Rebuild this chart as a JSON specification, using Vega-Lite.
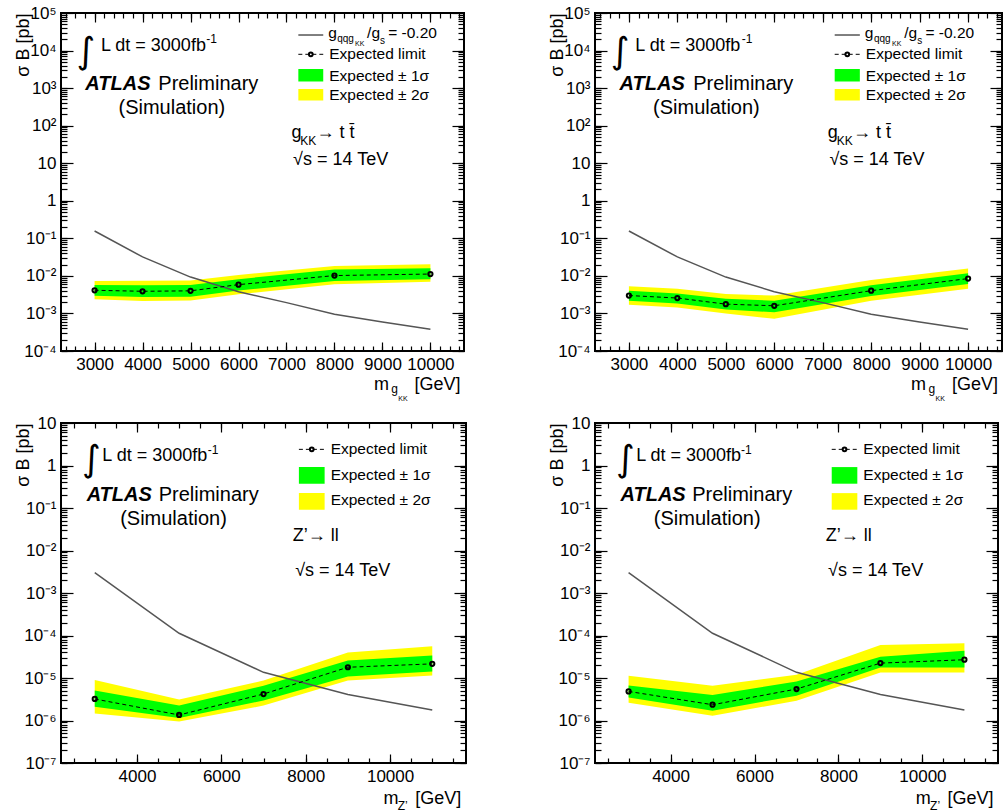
{
"$schema": "https://vega.github.io/schema/vega-lite/v6.json",
"background": "white",
"padding": {"left": 13, "top": 3, "right": 0, "bottom": 0},
"config": {
 "view": {"stroke": "black", "strokeWidth": 2},
 "font": "Liberation Sans",
 "axis": {"grid": false, "domain": false, "labelFont": "Liberation Sans", "labelFontSize": 17, "labelColor": "black", "tickColor": "black", "tickWidth": 1.2, "titleFont": "Liberation Sans", "titleFontSize": 18, "titleFontWeight": "normal", "titleColor": "black", "labelFlush": false, "labelOverlap": false},
 "text": {"font": "Liberation Sans", "color": "black"}
},
"datasets": {
 "tl": [
  {"m":3000,"lo2":0.00238,"lo1":0.00298,"exp":0.00414,"hi1":0.00573,"hi2":0.00733},
  {"m":4000,"lo2":0.00215,"lo1":0.00275,"exp":0.00389,"hi1":0.0056,"hi2":0.0074},
  {"m":5000,"lo2":0.0022,"lo1":0.0028,"exp":0.0040,"hi1":0.0057,"hi2":0.0075},
  {"m":6000,"lo2":0.00324,"lo1":0.0041,"exp":0.00585,"hi1":0.0082,"hi2":0.0106},
  {"m":8000,"lo2":0.00597,"lo1":0.00733,"exp":0.0102,"hi1":0.0147,"hi2":0.0184},
  {"m":10000,"lo2":0.0070,"lo1":0.0081,"exp":0.0112,"hi1":0.0159,"hi2":0.0204}
 ],
 "tr": [
  {"m":3000,"lo2":0.0017,"lo1":0.00219,"exp":0.0030,"hi1":0.00404,"hi2":0.00526},
  {"m":4000,"lo2":0.00144,"lo1":0.00185,"exp":0.00257,"hi1":0.00342,"hi2":0.00457},
  {"m":5000,"lo2":0.0010,"lo1":0.00127,"exp":0.00177,"hi1":0.00246,"hi2":0.00328},
  {"m":6000,"lo2":0.00072,"lo1":0.00108,"exp":0.0016,"hi1":0.00219,"hi2":0.0030},
  {"m":8000,"lo2":0.00219,"lo1":0.0029,"exp":0.00404,"hi1":0.0056,"hi2":0.0078},
  {"m":10000,"lo2":0.00457,"lo1":0.00608,"exp":0.00848,"hi1":0.0117,"hi2":0.0157}
 ],
 "bl": [
  {"m":3000,"lo2":1.47e-6,"lo1":2.12e-6,"exp":3.21e-6,"hi1":5.05e-6,"hi2":9.0e-6},
  {"m":5000,"lo2":9.5e-7,"lo1":1.15e-6,"exp":1.35e-6,"hi1":2.24e-6,"hi2":3.1e-6},
  {"m":7000,"lo2":2.24e-6,"lo1":2.95e-6,"exp":4.2e-6,"hi1":6.6e-6,"hi2":8.7e-6},
  {"m":9000,"lo2":8.7e-6,"lo1":1.08e-5,"exp":1.79e-5,"hi1":2.57e-5,"hi2":4.0e-5},
  {"m":11000,"lo2":1.14e-5,"lo1":1.42e-5,"exp":2.15e-5,"hi1":3.37e-5,"hi2":5.6e-5}
 ],
 "br": [
  {"m":3000,"lo2":2.62e-6,"lo1":3.5e-6,"exp":4.83e-6,"hi1":6.7e-6,"hi2":1.13e-5},
  {"m":5000,"lo2":1.29e-6,"lo1":1.7e-6,"exp":2.35e-6,"hi1":3.97e-6,"hi2":6.6e-6},
  {"m":7000,"lo2":2.92e-6,"lo1":3.83e-6,"exp":5.5e-6,"hi1":8.3e-6,"hi2":1.19e-5},
  {"m":9000,"lo2":1.35e-5,"lo1":1.77e-5,"exp":2.24e-5,"hi1":3.16e-5,"hi2":6.0e-5},
  {"m":11000,"lo2":1.35e-5,"lo1":1.77e-5,"exp":2.69e-5,"hi1":4.36e-5,"hi2":6.6e-5}
 ],
 "thTop": [
  {"m":3000,"v":0.157},{"m":4000,"v":0.032},{"m":5000,"v":0.0093},{"m":6000,"v":0.0038},
  {"m":7000,"v":0.00194},{"m":8000,"v":0.00095},{"m":9000,"v":0.00059},{"m":10000,"v":0.00038}
 ],
 "thBot": [
  {"m":3000,"v":0.003},{"m":5000,"v":0.000113},{"m":7000,"v":1.36e-5},{"m":9000,"v":4.07e-6},{"m":11000,"v":1.77e-6}
 ],
 "topA": [{"x":2807,"y":1265,"t":"ATLAS"}],
 "topB": [{"x":4328,"y":1265,"t":"Preliminary"},{"x":3498,"y":290.4,"t":"(Simulation)"}],
 "topC": [{"x":3133,"y":13200,"t":"L dt = 3000fb"},{"x":7102,"y":65,"t":"g"},{"x":7627,"y":65,"t":"→ t t̄"},{"x":7138,"y":11.97,"t":"√s = 14 TeV"},{"x":8824,"y":1.247e-5,"t":"m"},{"x":9668,"y":1.247e-5,"t":"[GeV]"}],
 "topD": [{"x":5330,"y":20000,"t":"-1"},{"x":7288,"y":39.1,"t":"KK"},{"x":9183,"y":9.57e-6,"t":"g"}],
 "topE": [{"x":7869,"y":29920,"t":"g"},{"x":8680,"y":29920,"t":"/g"},{"x":9120,"y":29920,"t":"= -0.20"},{"x":7890,"y":7943,"t":"Expected limit"},{"x":7890,"y":2104,"t":"Expected ± 1σ"},{"x":7890,"y":656,"t":"Expected ± 2σ"}],
 "topF": [{"x":8056,"y":20700,"t":"qqg"},{"x":8950,"y":17990,"t":"s"}],
 "topG": [{"x":8430,"y":15240,"t":"KK"},{"x":9330,"y":5.4e-6,"t":"KK"}],
 "topH": [{"x":2817,"y":9162,"t":"∫"}],
 "topLegSolid": [{"x":7247,"x2":7766,"y":25940}],
 "topLegDash": [{"x":7247,"x2":7766,"y":7943}],
 "topLegDot": [{"x":7507,"y":7943}],
 "topLegGreen": [{"x":7247,"x2":7766,"y":3228,"y2":1500}],
 "topLegYellow": [{"x":7247,"x2":7766,"y":948,"y2":468}],
 "botA": [{"x":2808,"y":0.198,"t":"ATLAS"}],
 "botB": [{"x":4515,"y":0.198,"t":"Preliminary"},{"x":3602,"y":0.056,"t":"(Simulation)"}],
 "botC": [{"x":3180,"y":1.644,"t":"L dt = 3000fb"},{"x":7696,"y":0.0214,"t":"Z’→ ll"},{"x":7751,"y":0.00321,"t":"√s = 14 TeV"},{"x":9842,"y":1.42e-8,"t":"m"},{"x":10595,"y":1.42e-8,"t":"[GeV]"}],
 "botD": [{"x":5680,"y":2.275,"t":"-1"},{"x":10183,"y":9.86e-9,"t":"Z’"}],
 "botE": [{"x":8592,"y":2.399,"t":"Expected limit"},{"x":8592,"y":0.586,"t":"Expected ± 1σ"},{"x":8592,"y":0.151,"t":"Expected ± 2σ"}],
 "botH": [{"x":2922,"y":1.358,"t":"∫"}],
 "botLegDash": [{"x":7839,"x2":8449,"y":2.399}],
 "botLegDot": [{"x":8144,"y":2.399}],
 "botLegGreen": [{"x":7839,"x2":8449,"y":0.918,"y2":0.373}],
 "botLegYellow": [{"x":7839,"x2":8449,"y":0.224,"y2":0.0912}]
},
"columns": 2,
"spacing": {"row": 72, "column": 129},
"bounds": "flush",
"concat": [
  {"width": 403, "height": 338,
   "layer": [
    {"data": {"name": "tl"}, "mark": {"type": "area", "color": "#ffff00", "opacity": 1},
     "encoding": {
      "x": {"field": "m", "type": "quantitative", "scale": {"domain": [2300, 10700], "nice": false, "zero": false},
        "axis": {"orient": "bottom", "title": null, "values": [3000,4000,5000,6000,7000,8000,9000,10000], "format": "d", "tickSize": 9, "offset": -9, "labelPadding": 5}},
      "y": {"field": "lo2", "type": "quantitative", "scale": {"type": "log", "domain": [0.0001, 100000], "nice": false},
        "axis": {"orient": "left", "title": "σ B [pb]", "values": [0.0001,0.001,0.01,0.1,1,10,100,1000,10000,100000], "labelExpr": "datum.value == 1 ? '1' : datum.value == 10 ? '10' : '10' + ['⁻⁷','⁻⁶','⁻⁵','⁻⁴','⁻³','⁻²','⁻¹','','','²','³','⁴','⁵'][round(log(datum.value)/LN10) + 7]", "tickSize": 12, "offset": -12, "labelPadding": 5, "titleAnchor": "end", "titlePadding": -9}},
      "y2": {"field": "hi2"}}},
    {"data": {"name": "tl"}, "mark": {"type": "area", "color": "#00ff00", "opacity": 1},
     "encoding": {
      "x": {"field": "m", "type": "quantitative", "axis": {"orient": "bottom", "title": null, "labels": false, "tickSize": 5, "offset": -5, "values": [2400,2600,2800,3000,3200,3400,3600,3800,4000,4200,4400,4600,4800,5000,5200,5400,5600,5800,6000,6200,6400,6600,6800,7000,7200,7400,7600,7800,8000,8200,8400,8600,8800,9000,9200,9400,9600,9800,10000,10200,10400,10600]}},
      "y": {"field": "lo1", "type": "quantitative", "axis": {"orient": "left", "title": null, "labels": false, "tickSize": 6, "offset": -6, "tickCount": 60}},
      "y2": {"field": "hi1"}}},
    {"data": {"name": "thTop"}, "mark": {"type": "line", "color": "#555555", "strokeWidth": 1.5},
     "encoding": {
      "x": {"field": "m", "type": "quantitative", "axis": {"orient": "top", "title": null, "labels": false, "tickSize": 9, "offset": -9, "values": [3000,4000,5000,6000,7000,8000,9000,10000]}},
      "y": {"field": "v", "type": "quantitative", "axis": {"orient": "right", "title": null, "labels": false, "tickSize": 12, "offset": -12, "values": [0.0001,0.001,0.01,0.1,1,10,100,1000,10000,100000]}}}},
    {"data": {"name": "tl"}, "mark": {"type": "line", "color": "black", "strokeWidth": 1, "strokeDash": [4, 3]},
     "encoding": {
      "x": {"field": "m", "type": "quantitative", "axis": {"orient": "top", "title": null, "labels": false, "tickSize": 5, "offset": -5, "values": [2400,2600,2800,3000,3200,3400,3600,3800,4000,4200,4400,4600,4800,5000,5200,5400,5600,5800,6000,6200,6400,6600,6800,7000,7200,7400,7600,7800,8000,8200,8400,8600,8800,9000,9200,9400,9600,9800,10000,10200,10400,10600]}},
      "y": {"field": "exp", "type": "quantitative", "axis": {"orient": "right", "title": null, "labels": false, "tickSize": 6, "offset": -6, "tickCount": 60}}}},
    {"data": {"name": "tl"}, "mark": {"type": "point", "shape": "circle", "filled": false, "color": "black", "strokeWidth": 2, "size": 18, "opacity": 1},
     "encoding": {"x": {"field": "m", "type": "quantitative", "axis": null}, "y": {"field": "exp", "type": "quantitative", "axis": null}}},
    {"data": {"name": "topLegSolid"}, "mark": {"type": "rule", "color": "#555555", "strokeWidth": 1.5},
     "encoding": {"x": {"field": "x", "type": "quantitative", "axis": null}, "x2": {"field": "x2"}, "y": {"field": "y", "type": "quantitative", "axis": null}}},
    {"data": {"name": "topLegDash"}, "mark": {"type": "rule", "color": "black", "strokeWidth": 1, "strokeDash": [4, 3]},
     "encoding": {"x": {"field": "x", "type": "quantitative", "axis": null}, "x2": {"field": "x2"}, "y": {"field": "y", "type": "quantitative", "axis": null}}},
    {"data": {"name": "topLegDot"}, "mark": {"type": "point", "shape": "circle", "filled": false, "color": "black", "strokeWidth": 2, "size": 14, "opacity": 1},
     "encoding": {"x": {"field": "x", "type": "quantitative", "axis": null}, "y": {"field": "y", "type": "quantitative", "axis": null}}},
    {"data": {"name": "topLegGreen"}, "mark": {"type": "rect", "color": "#00ff00"},
     "encoding": {"x": {"field": "x", "type": "quantitative", "axis": null}, "x2": {"field": "x2"}, "y": {"field": "y", "type": "quantitative", "axis": null}, "y2": {"field": "y2"}}},
    {"data": {"name": "topLegYellow"}, "mark": {"type": "rect", "color": "#ffff00"},
     "encoding": {"x": {"field": "x", "type": "quantitative", "axis": null}, "x2": {"field": "x2"}, "y": {"field": "y", "type": "quantitative", "axis": null}, "y2": {"field": "y2"}}},
    {"data": {"name": "topA"}, "mark": {"type": "text", "align": "left", "baseline": "middle", "fontSize": 20, "fontWeight": "bold", "fontStyle": "italic"},
     "encoding": {"x": {"field": "x", "type": "quantitative", "axis": null}, "y": {"field": "y", "type": "quantitative", "axis": null}, "text": {"field": "t"}}},
    {"data": {"name": "topB"}, "mark": {"type": "text", "align": "left", "baseline": "middle", "fontSize": 20},
     "encoding": {"x": {"field": "x", "type": "quantitative", "axis": null}, "y": {"field": "y", "type": "quantitative", "axis": null}, "text": {"field": "t"}}},
    {"data": {"name": "topC"}, "mark": {"type": "text", "align": "left", "baseline": "middle", "fontSize": 18},
     "encoding": {"x": {"field": "x", "type": "quantitative", "axis": null}, "y": {"field": "y", "type": "quantitative", "axis": null}, "text": {"field": "t"}}},
    {"data": {"name": "topD"}, "mark": {"type": "text", "align": "left", "baseline": "middle", "fontSize": 12},
     "encoding": {"x": {"field": "x", "type": "quantitative", "axis": null}, "y": {"field": "y", "type": "quantitative", "axis": null}, "text": {"field": "t"}}},
    {"data": {"name": "topE"}, "mark": {"type": "text", "align": "left", "baseline": "middle", "fontSize": 15.5},
     "encoding": {"x": {"field": "x", "type": "quantitative", "axis": null}, "y": {"field": "y", "type": "quantitative", "axis": null}, "text": {"field": "t"}}},
    {"data": {"name": "topF"}, "mark": {"type": "text", "align": "left", "baseline": "middle", "fontSize": 10},
     "encoding": {"x": {"field": "x", "type": "quantitative", "axis": null}, "y": {"field": "y", "type": "quantitative", "axis": null}, "text": {"field": "t"}}},
    {"data": {"name": "topG"}, "mark": {"type": "text", "align": "left", "baseline": "middle", "fontSize": 7},
     "encoding": {"x": {"field": "x", "type": "quantitative", "axis": null}, "y": {"field": "y", "type": "quantitative", "axis": null}, "text": {"field": "t"}}},
    {"data": {"name": "topH"}, "mark": {"type": "text", "align": "center", "baseline": "middle", "fontSize": 36, "font": "DejaVu Sans"},
     "encoding": {"x": {"field": "x", "type": "quantitative", "axis": null}, "y": {"field": "y", "type": "quantitative", "axis": null}, "text": {"field": "t"}}}
   ],
   "resolve": {"axis": {"x": "independent", "y": "independent"}}
  },
  {"width": 407, "height": 338,
   "layer": [
    {"data": {"name": "tr"}, "mark": {"type": "area", "color": "#ffff00", "opacity": 1},
     "encoding": {
      "x": {"field": "m", "type": "quantitative", "scale": {"domain": [2300, 10700], "nice": false, "zero": false},
        "axis": {"orient": "bottom", "title": null, "values": [3000,4000,5000,6000,7000,8000,9000,10000], "format": "d", "tickSize": 9, "offset": -9, "labelPadding": 5}},
      "y": {"field": "lo2", "type": "quantitative", "scale": {"type": "log", "domain": [0.0001, 100000], "nice": false},
        "axis": {"orient": "left", "title": "σ B [pb]", "values": [0.0001,0.001,0.01,0.1,1,10,100,1000,10000,100000], "labelExpr": "datum.value == 1 ? '1' : datum.value == 10 ? '10' : '10' + ['⁻⁷','⁻⁶','⁻⁵','⁻⁴','⁻³','⁻²','⁻¹','','','²','³','⁴','⁵'][round(log(datum.value)/LN10) + 7]", "tickSize": 12, "offset": -12, "labelPadding": 5, "titleAnchor": "end", "titlePadding": -9}},
      "y2": {"field": "hi2"}}},
    {"data": {"name": "tr"}, "mark": {"type": "area", "color": "#00ff00", "opacity": 1},
     "encoding": {
      "x": {"field": "m", "type": "quantitative", "axis": {"orient": "bottom", "title": null, "labels": false, "tickSize": 5, "offset": -5, "values": [2400,2600,2800,3000,3200,3400,3600,3800,4000,4200,4400,4600,4800,5000,5200,5400,5600,5800,6000,6200,6400,6600,6800,7000,7200,7400,7600,7800,8000,8200,8400,8600,8800,9000,9200,9400,9600,9800,10000,10200,10400,10600]}},
      "y": {"field": "lo1", "type": "quantitative", "axis": {"orient": "left", "title": null, "labels": false, "tickSize": 6, "offset": -6, "tickCount": 60}},
      "y2": {"field": "hi1"}}},
    {"data": {"name": "thTop"}, "mark": {"type": "line", "color": "#555555", "strokeWidth": 1.5},
     "encoding": {
      "x": {"field": "m", "type": "quantitative", "axis": {"orient": "top", "title": null, "labels": false, "tickSize": 9, "offset": -9, "values": [3000,4000,5000,6000,7000,8000,9000,10000]}},
      "y": {"field": "v", "type": "quantitative", "axis": {"orient": "right", "title": null, "labels": false, "tickSize": 12, "offset": -12, "values": [0.0001,0.001,0.01,0.1,1,10,100,1000,10000,100000]}}}},
    {"data": {"name": "tr"}, "mark": {"type": "line", "color": "black", "strokeWidth": 1, "strokeDash": [4, 3]},
     "encoding": {
      "x": {"field": "m", "type": "quantitative", "axis": {"orient": "top", "title": null, "labels": false, "tickSize": 5, "offset": -5, "values": [2400,2600,2800,3000,3200,3400,3600,3800,4000,4200,4400,4600,4800,5000,5200,5400,5600,5800,6000,6200,6400,6600,6800,7000,7200,7400,7600,7800,8000,8200,8400,8600,8800,9000,9200,9400,9600,9800,10000,10200,10400,10600]}},
      "y": {"field": "exp", "type": "quantitative", "axis": {"orient": "right", "title": null, "labels": false, "tickSize": 6, "offset": -6, "tickCount": 60}}}},
    {"data": {"name": "tr"}, "mark": {"type": "point", "shape": "circle", "filled": false, "color": "black", "strokeWidth": 2, "size": 18, "opacity": 1},
     "encoding": {"x": {"field": "m", "type": "quantitative", "axis": null}, "y": {"field": "exp", "type": "quantitative", "axis": null}}},
    {"data": {"name": "topLegSolid"}, "mark": {"type": "rule", "color": "#555555", "strokeWidth": 1.5},
     "encoding": {"x": {"field": "x", "type": "quantitative", "axis": null}, "x2": {"field": "x2"}, "y": {"field": "y", "type": "quantitative", "axis": null}}},
    {"data": {"name": "topLegDash"}, "mark": {"type": "rule", "color": "black", "strokeWidth": 1, "strokeDash": [4, 3]},
     "encoding": {"x": {"field": "x", "type": "quantitative", "axis": null}, "x2": {"field": "x2"}, "y": {"field": "y", "type": "quantitative", "axis": null}}},
    {"data": {"name": "topLegDot"}, "mark": {"type": "point", "shape": "circle", "filled": false, "color": "black", "strokeWidth": 2, "size": 14, "opacity": 1},
     "encoding": {"x": {"field": "x", "type": "quantitative", "axis": null}, "y": {"field": "y", "type": "quantitative", "axis": null}}},
    {"data": {"name": "topLegGreen"}, "mark": {"type": "rect", "color": "#00ff00"},
     "encoding": {"x": {"field": "x", "type": "quantitative", "axis": null}, "x2": {"field": "x2"}, "y": {"field": "y", "type": "quantitative", "axis": null}, "y2": {"field": "y2"}}},
    {"data": {"name": "topLegYellow"}, "mark": {"type": "rect", "color": "#ffff00"},
     "encoding": {"x": {"field": "x", "type": "quantitative", "axis": null}, "x2": {"field": "x2"}, "y": {"field": "y", "type": "quantitative", "axis": null}, "y2": {"field": "y2"}}},
    {"data": {"name": "topA"}, "mark": {"type": "text", "align": "left", "baseline": "middle", "fontSize": 20, "fontWeight": "bold", "fontStyle": "italic"},
     "encoding": {"x": {"field": "x", "type": "quantitative", "axis": null}, "y": {"field": "y", "type": "quantitative", "axis": null}, "text": {"field": "t"}}},
    {"data": {"name": "topB"}, "mark": {"type": "text", "align": "left", "baseline": "middle", "fontSize": 20},
     "encoding": {"x": {"field": "x", "type": "quantitative", "axis": null}, "y": {"field": "y", "type": "quantitative", "axis": null}, "text": {"field": "t"}}},
    {"data": {"name": "topC"}, "mark": {"type": "text", "align": "left", "baseline": "middle", "fontSize": 18},
     "encoding": {"x": {"field": "x", "type": "quantitative", "axis": null}, "y": {"field": "y", "type": "quantitative", "axis": null}, "text": {"field": "t"}}},
    {"data": {"name": "topD"}, "mark": {"type": "text", "align": "left", "baseline": "middle", "fontSize": 12},
     "encoding": {"x": {"field": "x", "type": "quantitative", "axis": null}, "y": {"field": "y", "type": "quantitative", "axis": null}, "text": {"field": "t"}}},
    {"data": {"name": "topE"}, "mark": {"type": "text", "align": "left", "baseline": "middle", "fontSize": 15.5},
     "encoding": {"x": {"field": "x", "type": "quantitative", "axis": null}, "y": {"field": "y", "type": "quantitative", "axis": null}, "text": {"field": "t"}}},
    {"data": {"name": "topF"}, "mark": {"type": "text", "align": "left", "baseline": "middle", "fontSize": 10},
     "encoding": {"x": {"field": "x", "type": "quantitative", "axis": null}, "y": {"field": "y", "type": "quantitative", "axis": null}, "text": {"field": "t"}}},
    {"data": {"name": "topG"}, "mark": {"type": "text", "align": "left", "baseline": "middle", "fontSize": 7},
     "encoding": {"x": {"field": "x", "type": "quantitative", "axis": null}, "y": {"field": "y", "type": "quantitative", "axis": null}, "text": {"field": "t"}}},
    {"data": {"name": "topH"}, "mark": {"type": "text", "align": "center", "baseline": "middle", "fontSize": 36, "font": "DejaVu Sans"},
     "encoding": {"x": {"field": "x", "type": "quantitative", "axis": null}, "y": {"field": "y", "type": "quantitative", "axis": null}, "text": {"field": "t"}}}
   ],
   "resolve": {"axis": {"x": "independent", "y": "independent"}}
  },
  {"width": 405, "height": 340,
   "layer": [
    {"data": {"name": "bl"}, "mark": {"type": "area", "color": "#ffff00", "opacity": 1},
     "encoding": {
      "x": {"field": "m", "type": "quantitative", "scale": {"domain": [2200, 11800], "nice": false, "zero": false},
        "axis": {"orient": "bottom", "title": null, "values": [4000,6000,8000,10000], "format": "d", "tickSize": 9, "offset": -9, "labelPadding": 5}},
      "y": {"field": "lo2", "type": "quantitative", "scale": {"type": "log", "domain": [1e-7, 10], "nice": false},
        "axis": {"orient": "left", "title": "σ B [pb]", "values": [1e-7,1e-6,1e-5,0.0001,0.001,0.01,0.1,1,10], "labelExpr": "datum.value == 1 ? '1' : datum.value == 10 ? '10' : '10' + ['⁻⁷','⁻⁶','⁻⁵','⁻⁴','⁻³','⁻²','⁻¹','','','²','³','⁴','⁵'][round(log(datum.value)/LN10) + 7]", "tickSize": 12, "offset": -12, "labelPadding": 5, "titleAnchor": "end", "titlePadding": -9}},
      "y2": {"field": "hi2"}}},
    {"data": {"name": "bl"}, "mark": {"type": "area", "color": "#00ff00", "opacity": 1},
     "encoding": {
      "x": {"field": "m", "type": "quantitative", "axis": {"orient": "bottom", "title": null, "labels": false, "tickSize": 5, "offset": -5, "values": [2500,3000,3500,4000,4500,5000,5500,6000,6500,7000,7500,8000,8500,9000,9500,10000,10500,11000,11500]}},
      "y": {"field": "lo1", "type": "quantitative", "axis": {"orient": "left", "title": null, "labels": false, "tickSize": 6, "offset": -6, "tickCount": 60}},
      "y2": {"field": "hi1"}}},
    {"data": {"name": "thBot"}, "mark": {"type": "line", "color": "#555555", "strokeWidth": 1.5},
     "encoding": {
      "x": {"field": "m", "type": "quantitative", "axis": {"orient": "top", "title": null, "labels": false, "tickSize": 9, "offset": -9, "values": [4000,6000,8000,10000]}},
      "y": {"field": "v", "type": "quantitative", "axis": {"orient": "right", "title": null, "labels": false, "tickSize": 12, "offset": -12, "values": [1e-7,1e-6,1e-5,0.0001,0.001,0.01,0.1,1,10]}}}},
    {"data": {"name": "bl"}, "mark": {"type": "line", "color": "black", "strokeWidth": 1, "strokeDash": [4, 3]},
     "encoding": {
      "x": {"field": "m", "type": "quantitative", "axis": {"orient": "top", "title": null, "labels": false, "tickSize": 5, "offset": -5, "values": [2500,3000,3500,4000,4500,5000,5500,6000,6500,7000,7500,8000,8500,9000,9500,10000,10500,11000,11500]}},
      "y": {"field": "exp", "type": "quantitative", "axis": {"orient": "right", "title": null, "labels": false, "tickSize": 6, "offset": -6, "tickCount": 60}}}},
    {"data": {"name": "bl"}, "mark": {"type": "point", "shape": "circle", "filled": false, "color": "black", "strokeWidth": 2, "size": 18, "opacity": 1},
     "encoding": {"x": {"field": "m", "type": "quantitative", "axis": null}, "y": {"field": "exp", "type": "quantitative", "axis": null}}},
    {"data": {"name": "botLegDash"}, "mark": {"type": "rule", "color": "black", "strokeWidth": 1, "strokeDash": [4, 3]},
     "encoding": {"x": {"field": "x", "type": "quantitative", "axis": null}, "x2": {"field": "x2"}, "y": {"field": "y", "type": "quantitative", "axis": null}}},
    {"data": {"name": "botLegDot"}, "mark": {"type": "point", "shape": "circle", "filled": false, "color": "black", "strokeWidth": 2, "size": 14, "opacity": 1},
     "encoding": {"x": {"field": "x", "type": "quantitative", "axis": null}, "y": {"field": "y", "type": "quantitative", "axis": null}}},
    {"data": {"name": "botLegGreen"}, "mark": {"type": "rect", "color": "#00ff00"},
     "encoding": {"x": {"field": "x", "type": "quantitative", "axis": null}, "x2": {"field": "x2"}, "y": {"field": "y", "type": "quantitative", "axis": null}, "y2": {"field": "y2"}}},
    {"data": {"name": "botLegYellow"}, "mark": {"type": "rect", "color": "#ffff00"},
     "encoding": {"x": {"field": "x", "type": "quantitative", "axis": null}, "x2": {"field": "x2"}, "y": {"field": "y", "type": "quantitative", "axis": null}, "y2": {"field": "y2"}}},
    {"data": {"name": "botA"}, "mark": {"type": "text", "align": "left", "baseline": "middle", "fontSize": 20, "fontWeight": "bold", "fontStyle": "italic"},
     "encoding": {"x": {"field": "x", "type": "quantitative", "axis": null}, "y": {"field": "y", "type": "quantitative", "axis": null}, "text": {"field": "t"}}},
    {"data": {"name": "botB"}, "mark": {"type": "text", "align": "left", "baseline": "middle", "fontSize": 20},
     "encoding": {"x": {"field": "x", "type": "quantitative", "axis": null}, "y": {"field": "y", "type": "quantitative", "axis": null}, "text": {"field": "t"}}},
    {"data": {"name": "botC"}, "mark": {"type": "text", "align": "left", "baseline": "middle", "fontSize": 18},
     "encoding": {"x": {"field": "x", "type": "quantitative", "axis": null}, "y": {"field": "y", "type": "quantitative", "axis": null}, "text": {"field": "t"}}},
    {"data": {"name": "botD"}, "mark": {"type": "text", "align": "left", "baseline": "middle", "fontSize": 12},
     "encoding": {"x": {"field": "x", "type": "quantitative", "axis": null}, "y": {"field": "y", "type": "quantitative", "axis": null}, "text": {"field": "t"}}},
    {"data": {"name": "botE"}, "mark": {"type": "text", "align": "left", "baseline": "middle", "fontSize": 15.5},
     "encoding": {"x": {"field": "x", "type": "quantitative", "axis": null}, "y": {"field": "y", "type": "quantitative", "axis": null}, "text": {"field": "t"}}},
    {"data": {"name": "botH"}, "mark": {"type": "text", "align": "center", "baseline": "middle", "fontSize": 36, "font": "DejaVu Sans"},
     "encoding": {"x": {"field": "x", "type": "quantitative", "axis": null}, "y": {"field": "y", "type": "quantitative", "axis": null}, "text": {"field": "t"}}}
   ],
   "resolve": {"axis": {"x": "independent", "y": "independent"}}
  },
  {"width": 403, "height": 340,
   "layer": [
    {"data": {"name": "br"}, "mark": {"type": "area", "color": "#ffff00", "opacity": 1},
     "encoding": {
      "x": {"field": "m", "type": "quantitative", "scale": {"domain": [2200, 11800], "nice": false, "zero": false},
        "axis": {"orient": "bottom", "title": null, "values": [4000,6000,8000,10000], "format": "d", "tickSize": 9, "offset": -9, "labelPadding": 5}},
      "y": {"field": "lo2", "type": "quantitative", "scale": {"type": "log", "domain": [1e-7, 10], "nice": false},
        "axis": {"orient": "left", "title": "σ B [pb]", "values": [1e-7,1e-6,1e-5,0.0001,0.001,0.01,0.1,1,10], "labelExpr": "datum.value == 1 ? '1' : datum.value == 10 ? '10' : '10' + ['⁻⁷','⁻⁶','⁻⁵','⁻⁴','⁻³','⁻²','⁻¹','','','²','³','⁴','⁵'][round(log(datum.value)/LN10) + 7]", "tickSize": 12, "offset": -12, "labelPadding": 5, "titleAnchor": "end", "titlePadding": -9}},
      "y2": {"field": "hi2"}}},
    {"data": {"name": "br"}, "mark": {"type": "area", "color": "#00ff00", "opacity": 1},
     "encoding": {
      "x": {"field": "m", "type": "quantitative", "axis": {"orient": "bottom", "title": null, "labels": false, "tickSize": 5, "offset": -5, "values": [2500,3000,3500,4000,4500,5000,5500,6000,6500,7000,7500,8000,8500,9000,9500,10000,10500,11000,11500]}},
      "y": {"field": "lo1", "type": "quantitative", "axis": {"orient": "left", "title": null, "labels": false, "tickSize": 6, "offset": -6, "tickCount": 60}},
      "y2": {"field": "hi1"}}},
    {"data": {"name": "thBot"}, "mark": {"type": "line", "color": "#555555", "strokeWidth": 1.5},
     "encoding": {
      "x": {"field": "m", "type": "quantitative", "axis": {"orient": "top", "title": null, "labels": false, "tickSize": 9, "offset": -9, "values": [4000,6000,8000,10000]}},
      "y": {"field": "v", "type": "quantitative", "axis": {"orient": "right", "title": null, "labels": false, "tickSize": 12, "offset": -12, "values": [1e-7,1e-6,1e-5,0.0001,0.001,0.01,0.1,1,10]}}}},
    {"data": {"name": "br"}, "mark": {"type": "line", "color": "black", "strokeWidth": 1, "strokeDash": [4, 3]},
     "encoding": {
      "x": {"field": "m", "type": "quantitative", "axis": {"orient": "top", "title": null, "labels": false, "tickSize": 5, "offset": -5, "values": [2500,3000,3500,4000,4500,5000,5500,6000,6500,7000,7500,8000,8500,9000,9500,10000,10500,11000,11500]}},
      "y": {"field": "exp", "type": "quantitative", "axis": {"orient": "right", "title": null, "labels": false, "tickSize": 6, "offset": -6, "tickCount": 60}}}},
    {"data": {"name": "br"}, "mark": {"type": "point", "shape": "circle", "filled": false, "color": "black", "strokeWidth": 2, "size": 18, "opacity": 1},
     "encoding": {"x": {"field": "m", "type": "quantitative", "axis": null}, "y": {"field": "exp", "type": "quantitative", "axis": null}}},
    {"data": {"name": "botLegDash"}, "mark": {"type": "rule", "color": "black", "strokeWidth": 1, "strokeDash": [4, 3]},
     "encoding": {"x": {"field": "x", "type": "quantitative", "axis": null}, "x2": {"field": "x2"}, "y": {"field": "y", "type": "quantitative", "axis": null}}},
    {"data": {"name": "botLegDot"}, "mark": {"type": "point", "shape": "circle", "filled": false, "color": "black", "strokeWidth": 2, "size": 14, "opacity": 1},
     "encoding": {"x": {"field": "x", "type": "quantitative", "axis": null}, "y": {"field": "y", "type": "quantitative", "axis": null}}},
    {"data": {"name": "botLegGreen"}, "mark": {"type": "rect", "color": "#00ff00"},
     "encoding": {"x": {"field": "x", "type": "quantitative", "axis": null}, "x2": {"field": "x2"}, "y": {"field": "y", "type": "quantitative", "axis": null}, "y2": {"field": "y2"}}},
    {"data": {"name": "botLegYellow"}, "mark": {"type": "rect", "color": "#ffff00"},
     "encoding": {"x": {"field": "x", "type": "quantitative", "axis": null}, "x2": {"field": "x2"}, "y": {"field": "y", "type": "quantitative", "axis": null}, "y2": {"field": "y2"}}},
    {"data": {"name": "botA"}, "mark": {"type": "text", "align": "left", "baseline": "middle", "fontSize": 20, "fontWeight": "bold", "fontStyle": "italic"},
     "encoding": {"x": {"field": "x", "type": "quantitative", "axis": null}, "y": {"field": "y", "type": "quantitative", "axis": null}, "text": {"field": "t"}}},
    {"data": {"name": "botB"}, "mark": {"type": "text", "align": "left", "baseline": "middle", "fontSize": 20},
     "encoding": {"x": {"field": "x", "type": "quantitative", "axis": null}, "y": {"field": "y", "type": "quantitative", "axis": null}, "text": {"field": "t"}}},
    {"data": {"name": "botC"}, "mark": {"type": "text", "align": "left", "baseline": "middle", "fontSize": 18},
     "encoding": {"x": {"field": "x", "type": "quantitative", "axis": null}, "y": {"field": "y", "type": "quantitative", "axis": null}, "text": {"field": "t"}}},
    {"data": {"name": "botD"}, "mark": {"type": "text", "align": "left", "baseline": "middle", "fontSize": 12},
     "encoding": {"x": {"field": "x", "type": "quantitative", "axis": null}, "y": {"field": "y", "type": "quantitative", "axis": null}, "text": {"field": "t"}}},
    {"data": {"name": "botE"}, "mark": {"type": "text", "align": "left", "baseline": "middle", "fontSize": 15.5},
     "encoding": {"x": {"field": "x", "type": "quantitative", "axis": null}, "y": {"field": "y", "type": "quantitative", "axis": null}, "text": {"field": "t"}}},
    {"data": {"name": "botH"}, "mark": {"type": "text", "align": "center", "baseline": "middle", "fontSize": 36, "font": "DejaVu Sans"},
     "encoding": {"x": {"field": "x", "type": "quantitative", "axis": null}, "y": {"field": "y", "type": "quantitative", "axis": null}, "text": {"field": "t"}}}
   ],
   "resolve": {"axis": {"x": "independent", "y": "independent"}}
  }
]
}
